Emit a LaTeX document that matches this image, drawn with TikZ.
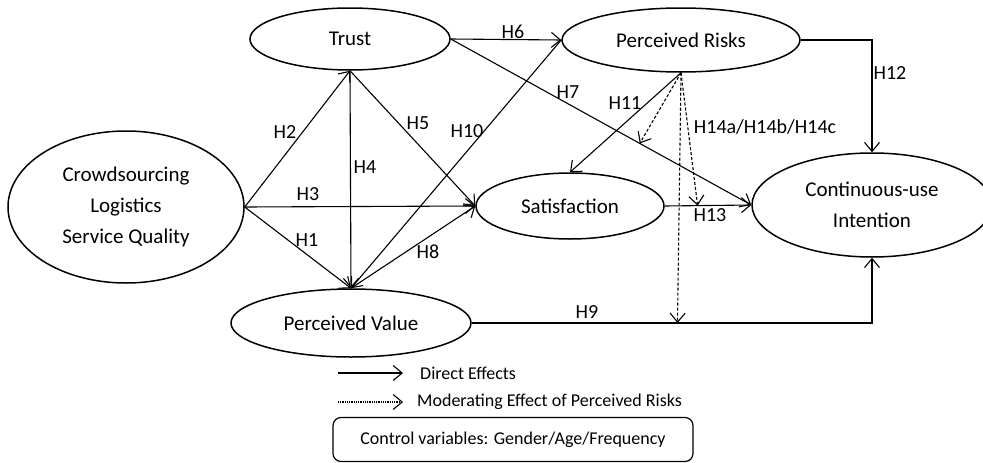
\documentclass[tikz,border=0pt]{standalone}
\usepackage{fontspec}
\setmainfont{Carlito}
\usetikzlibrary{arrows.meta,shapes.geometric}
\begin{document}
\begin{tikzpicture}[x=1pt,y=-1pt,
 construct/.style={draw,ellipse,line width=1.5pt,inner sep=0pt,font=\fontsize{21}{31}\selectfont,align=center},
 eff/.style={line width=1.1pt,-{Straight Barb[length=9pt,width=15pt,line width=1.1pt]}},
 mod/.style={eff,dash pattern=on 3pt off 2pt},
 hyp/.style={font=\fontsize{20}{24}\selectfont,inner sep=0pt},
 legtext/.style={font=\fontsize{18}{22}\selectfont,inner sep=0pt,anchor=west},
]
\useasboundingbox (0,0) rectangle (983,463);
% constructs
\node[construct,minimum width=236pt,minimum height=152pt] (cs) at (126,207) {Crowdsourcing\\Logistics\\Service Quality};
\node[construct,minimum width=200pt,minimum height=62pt] (trust) at (350,39) {Trust};
\node[construct,minimum width=240pt,minimum height=68pt] (pv) at (351,323) {Perceived Value};
\node[construct,minimum width=238pt,minimum height=64pt] (pr) at (681,40) {Perceived Risks};
\node[construct,minimum width=188pt,minimum height=66pt] (sat) at (570,206) {Satisfaction};
\node[construct,minimum width=240pt,minimum height=104pt] (cu) at (872,205) {Continuous-use\\Intention};
% direct effects
\draw[eff] (cs.east) -- (trust.south);
\draw[eff] (cs.east) -- (sat.west);
\draw[eff] (cs.east) -- (pv.north);
\draw[eff] (trust.south) -- (pv.north);
\draw[eff] (trust.south) -- (sat.west);
\draw[eff] (trust.east) -- (pr.west);
\draw[eff] (trust.east) -- (cu.west);
\draw[eff] (pr.west) -- (pv.north);
\draw[eff] (pv.north) -- (sat.west);
\draw[eff] (pr.south) -- (sat.north);
\draw[eff] (pr.east) -| (cu.north);
\draw[eff] (sat.east) -- (cu.west);
\draw[eff] (pv.east) -| (cu.south);
% moderating targets
\path (trust.east) -- (cu.west) coordinate[pos=0.629] (m7);
\path (sat.east) -- (cu.west) coordinate[pos=0.38] (m13);
\path (pv.east) -- (pv.east -| cu.south) coordinate[pos=0.514] (m9);
\draw[mod] (pr.south) -- (m7);
\draw[mod] (pr.south) -- (m13);
\draw[mod] (pr.south) -- (m9);
% hypothesis labels
\node[hyp] (h2) at (285,132) {H2};
\node[hyp] (h4) at (365,167) {H4};
\node[hyp] (h5) at (418,123) {H5};
\node[hyp] (h10) at (467,131) {H10};
\node[hyp] (h3) at (308,194) {H3};
\node[hyp] (h1) at (307,240) {H1};
\node[hyp] (h8) at (428,252) {H8};
\node[hyp] (h6) at (513,32) {H6};
\node[hyp] (h7) at (568,92) {H7};
\node[hyp] (h11) at (625,103) {H11};
\node[hyp] (h14) at (765,127) {H14a/H14b/H14c};
\node[hyp] (h12) at (890,73) {H12};
\node[hyp] (h13) at (710,215) {H13};
\node[hyp] (h9) at (587,312) {H9};
% legend
\coordinate (la) at (338,373);
\coordinate (lb) at (403,373);
\draw[eff] (la) -- (lb);
\node[legtext] (ltext1) at (420,373) {Direct Effects};
\coordinate (lc) at (338,402);
\coordinate (ld) at (403,402);
\draw[line width=1.1pt,dash pattern=on 1pt off 0.8pt,-{Straight Barb[length=9pt,width=15pt,line width=1.1pt]}] (lc) -- (ld);
\node[legtext] (ltext2) at (417,402) {Moderating Effect of Perceived Risks};
\node[draw,line width=1.2pt,rounded corners=8pt,minimum width=360pt,minimum height=44pt,inner sep=0pt,font=\fontsize{18}{22}\selectfont] (ctrl) at (513,439.5) {Control variables: Gender/Age/Frequency};
\end{tikzpicture}
\end{document}
